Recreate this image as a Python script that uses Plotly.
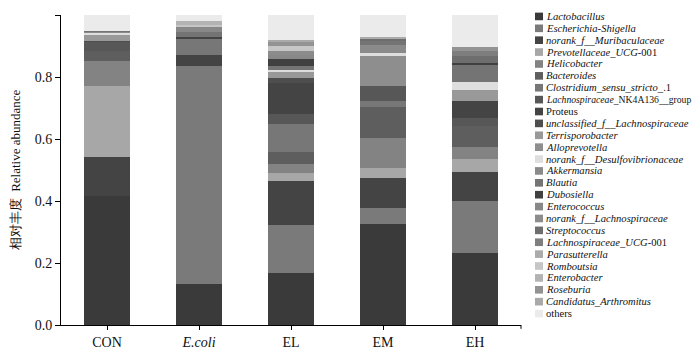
import plotly.graph_objects as go

categories = ["CON", "E.coli", "EL", "EM", "EH"]
category_labels = ["CON", "<i>E.coli</i>", "EL", "EM", "EH"]

genera = [
    "<i>Lactobacillus</i>",
    "<i>Escherichia-Shigella</i>",
    "<i>norank_f__Muribaculaceae</i>",
    "<i>Prevotellaceae_UCG</i>-001",
    "<i>Helicobacter</i>",
    "<i>Bacteroides</i>",
    "<i>Clostridium_sensu_stricto_</i>.1",
    "<i>Lachnospiraceae_</i>NK4A136__group",
    "Proteus",
    "<i>unclassified_f__Lachnospiraceae</i>",
    "<i>Terrisporobacter</i>",
    "<i>Alloprevotella</i>",
    "<i>norank_f__Desulfovibrionaceae</i>",
    "<i>Akkermansia</i>",
    "<i>Blautia</i>",
    "<i>Dubosiella</i>",
    "<i>Enterococcus</i>",
    "<i>norank_f__Lachnospiraceae</i>",
    "<i>Streptococcus</i>",
    "<i>Lachnospiraceae_UCG</i>-001",
    "<i>Parasutterella</i>",
    "<i>Romboutsia</i>",
    "<i>Enterobacter</i>",
    "<i>Roseburia</i>",
    "<i>Candidatus_Arthromitus</i>",
    "others",
]

colors = [
    "#3a3a3a", "#7a7a7a", "#444444", "#a7a7a7", "#838383", "#5e5e5e",
    "#777777", "#575757", "#444444", "#4e4e4e", "#999999", "#8e8e8e",
    "#dedede", "#8a8a8a", "#747474", "#404040", "#888888", "#8c8c8c",
    "#6e6e6e", "#7e7e7e", "#ababab", "#c6c6c6", "#b3b3b3", "#939393",
    "#a9a9a9", "#ebebeb",
]

# relative abundance per group, in genus order (bottom to top)
con = [0.416, 0.000, 0.125, 0.229, 0.082, 0.031, 0.000, 0.031, 0.000, 0.002,
       0.020, 0.002, 0.003, 0.007, 0.002, 0.000, 0.000, 0.000, 0.000, 0.000,
       0.000, 0.000, 0.000, 0.000, 0.000, 0.050]
ecoli = [0.133, 0.702, 0.036, 0.000, 0.000, 0.000, 0.053, 0.000, 0.005, 0.000,
         0.000, 0.000, 0.000, 0.000, 0.016, 0.000, 0.017, 0.000, 0.000, 0.000,
         0.000, 0.006, 0.012, 0.000, 0.000, 0.020]
el = [0.167, 0.154, 0.145, 0.025, 0.029, 0.037, 0.090, 0.033, 0.100, 0.016,
      0.022, 0.000, 0.004, 0.000, 0.015, 0.022, 0.012, 0.012, 0.000, 0.000,
      0.000, 0.018, 0.000, 0.015, 0.003, 0.081]
em = [0.327, 0.051, 0.097, 0.033, 0.096, 0.100, 0.018, 0.050, 0.000, 0.000,
      0.000, 0.098, 0.006, 0.028, 0.012, 0.000, 0.000, 0.000, 0.008, 0.000,
      0.005, 0.000, 0.000, 0.000, 0.000, 0.071]
eh = [0.232, 0.169, 0.091, 0.042, 0.041, 0.067, 0.000, 0.026, 0.054, 0.000,
      0.035, 0.000, 0.027, 0.000, 0.056, 0.005, 0.000, 0.000, 0.023, 0.015,
      0.000, 0.000, 0.000, 0.013, 0.000, 0.104]

y_ticks = [0.0, 0.2, 0.4, 0.6, 0.8, 1.0]

groups = [con, ecoli, el, em, eh]

W, H = 700, 349
ML, MR, MT, MB = 53, 187, 7, 17
PW = W - ML - MR
PH = H - MT - MB
FONT = "Liberation Serif"

fig = go.Figure()
for i, name in enumerate(genera):
    fig.add_trace(go.Bar(
        x=categories,
        y=[g[i] for g in groups],
        name=name,
        marker=dict(color=colors[i], line=dict(width=0)),
        width=0.5,
        showlegend=False,
    ))

# manual legend (compact spacing like the reference)
shapes = []
annotations = []
row0, step = 8.5, 12.46
for i, name in enumerate(genera):
    py = row0 + step * i
    yc = (H - MB - py) / PH
    x0 = (527 - ML) / PW
    x1 = (535 - ML) / PW
    hh = 4 / PH
    size = 9.7 if "NK4A136" in name else 10.6
    shapes.append(dict(type="rect", xref="paper", yref="paper",
                       x0=x0, x1=x1, y0=yc - hh, y1=yc + hh,
                       fillcolor=colors[i], line=dict(width=0)))
    annotations.append(dict(xref="paper", yref="paper", x=(536 - ML) / PW, y=yc,
                            xanchor="left", yanchor="middle", showarrow=False,
                            text=name, font=dict(family=FONT, size=size, color="#111")))

# end tick at right of x axis
shapes.append(dict(type="line", xref="paper", yref="paper", x0=1, x1=1,
                   y0=0, y1=-4 / PH, line=dict(color="black", width=1)))

fig.update_layout(
    width=W, height=H,
    margin=dict(l=ML, r=MR, t=MT, b=MB, pad=0),
    paper_bgcolor="white", plot_bgcolor="white",
    barmode="stack", bargap=0.5,
    font=dict(family=FONT, size=13, color="#111"),
    shapes=shapes, annotations=annotations,
    xaxis=dict(
        range=[-0.5, 4.5], tickmode="array", tickvals=categories,
        ticktext=category_labels, ticks="outside", ticklen=4, tickcolor="black",
        showline=True, linecolor="black", linewidth=1, showgrid=False,
        tickfont=dict(family=FONT, size=14), zeroline=False,
    ),
    yaxis=dict(
        range=[0, 1], tickvals=y_ticks, ticktext=[f"{v:.1f}" for v in y_ticks],
        ticks="outside", ticklen=5, tickcolor="black",
        showline=True, linecolor="black", linewidth=1, showgrid=False,
        zeroline=False, tickfont=dict(family=FONT, size=14),
        title=dict(text="相对丰度  Relative abundance", standoff=13,
                   font=dict(family="Liberation Serif", size=13)),
        automargin=False,
    ),
)

fig.write_html("out.html")
